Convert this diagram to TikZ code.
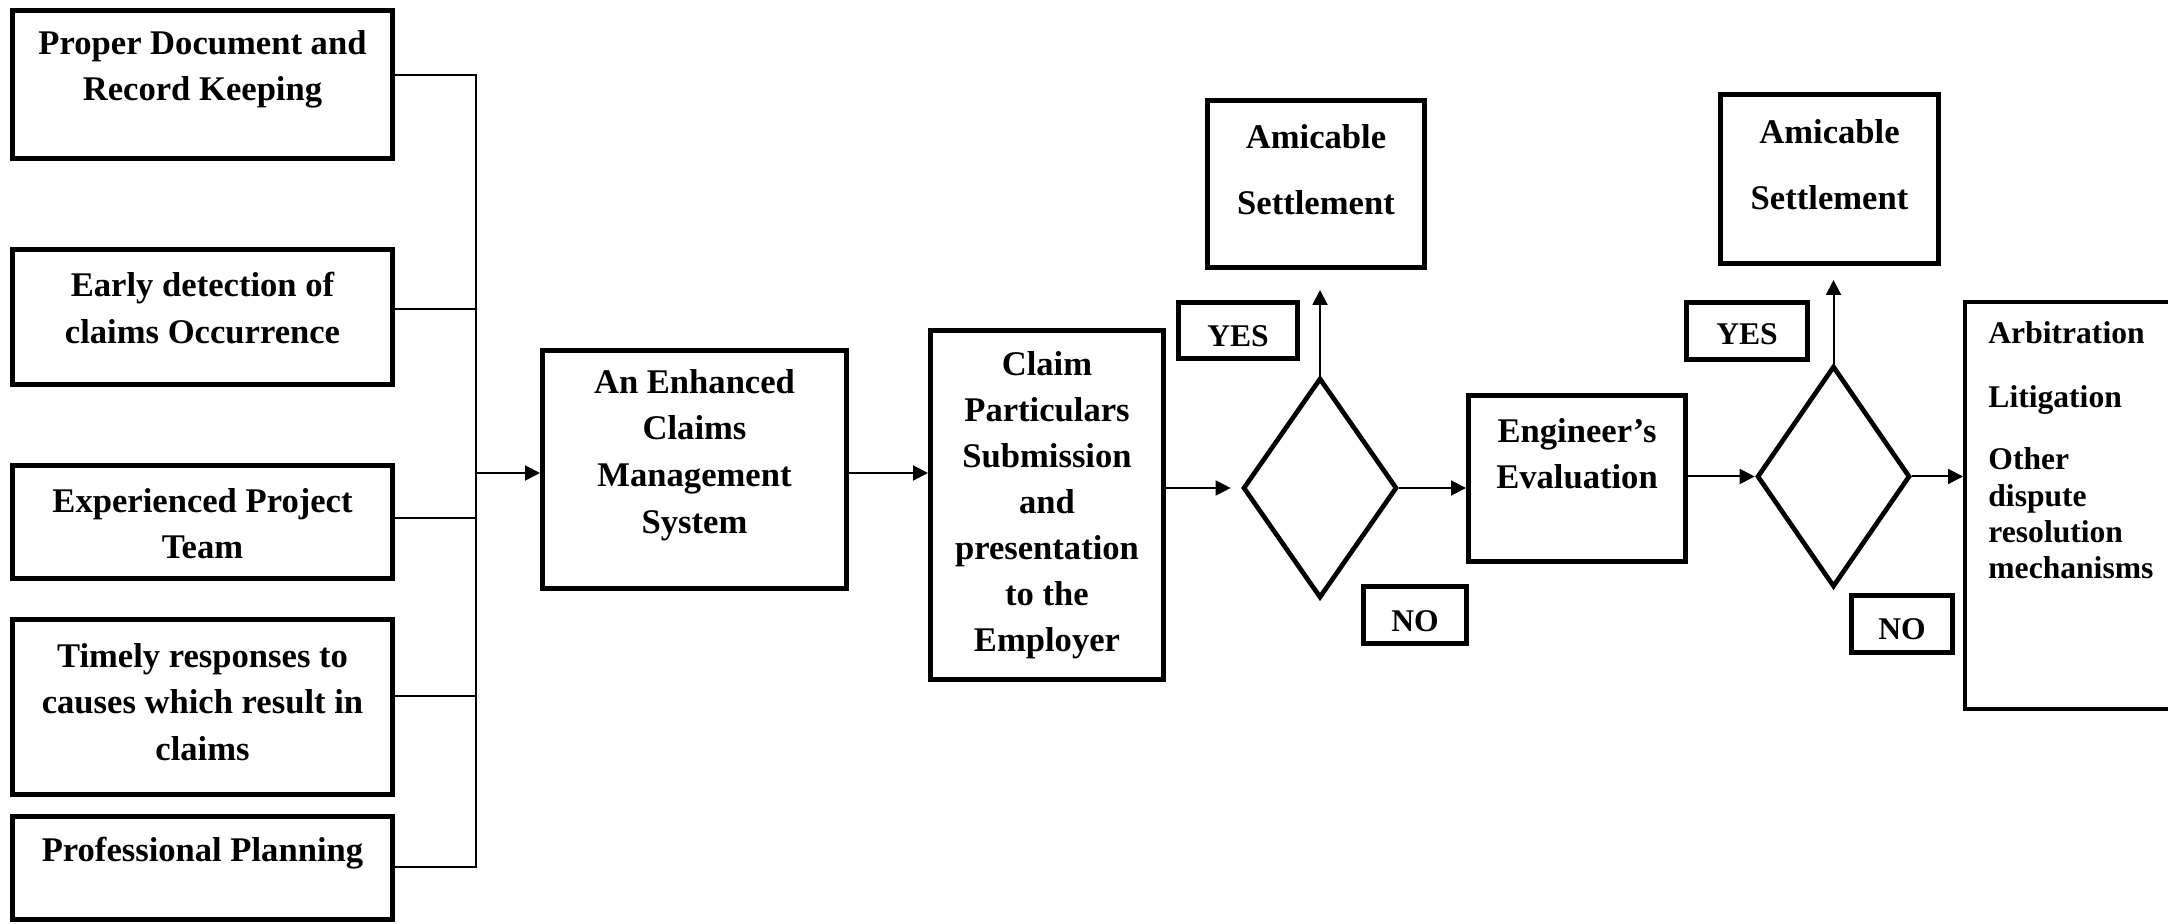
\documentclass[tikz,border=0pt]{standalone}
\usepackage{fontspec}
\setmainfont{Liberation Serif}
\usetikzlibrary{arrows.meta,shapes.geometric}

\begin{document}
\begin{tikzpicture}[x=0.5pt,y=-0.5pt,
  box/.style={draw,line width=2.35pt,inner sep=0pt,rectangle},
  smallbox/.style={draw,line width=2.2pt,inner sep=0pt,rectangle},
  decision/.style={draw,line width=2.35pt,inner sep=0pt,diamond},
  txt/.style={align=center,inner sep=0pt,font=\fontsize{17.3}{23.3}\selectfont\bfseries},
  amtxt/.style={align=center,inner sep=0pt,font=\fontsize{17.3}{33}\selectfont\bfseries},
  tag/.style={inner sep=0pt,font=\fontsize{15.8}{18}\selectfont\bfseries},
  opt/.style={anchor=base west,inner sep=0pt,font=\fontsize{15.8}{18}\selectfont\bfseries},
  conn/.style={line width=1pt},
  arr/.style={line width=1pt,-{Triangle[length=7.5pt,width=7.5pt]}}]
\useasboundingbox (0,0) rectangle (2168,924);

% measures feeding the management system
\node[box,minimum width=190.15pt,minimum height=74.15pt] (b1) at (202.5,84.5) {};
\node[box,minimum width=190.15pt,minimum height=67.65pt] (b2) at (202.5,317) {};
\node[box,minimum width=190.15pt,minimum height=56.65pt] (b3) at (202.5,522) {};
\node[box,minimum width=190.15pt,minimum height=87.65pt] (b4) at (202.5,707) {};
\node[box,minimum width=190.15pt,minimum height=51.65pt] (b5) at (202.5,868) {};
\node[txt] (b1t) at (202.5,69.5) {Proper Document and\\Record Keeping};
\node[txt] (b2t) at (202.5,308) {Early detection of\\claims Occurrence};
\node[txt] (b3t) at (202.5,523.5) {Experienced Project\\Team};
\node[txt] (b4t) at (202.5,702) {Timely responses to\\causes which result in\\claims};
\node[txt] (b5t) at (202.5,853.5) {Professional Planning};

% main process boxes
\node[box,minimum width=152.15pt,minimum height=119.15pt] (ecms) at (694.5,469.5) {};
\node[txt,font=\fontsize{17.3}{23.35}\selectfont\bfseries] (ecmst) at (694.5,455) {An Enhanced\\Claims\\Management\\System};
\node[box,minimum width=116.65pt,minimum height=174.65pt] (claim) at (1047,505) {};
\node[txt,font=\fontsize{17.3}{23}\selectfont\bfseries] (claimt) at (1047,505) {Claim\\Particulars\\Submission\\and\\presentation\\to the\\Employer};

% first decision
\node[decision,minimum width=77pt,minimum height=110pt] (d1) at (1320,488) {};
\node[box,minimum width=108.65pt,minimum height=83.65pt] (am1) at (1316,184) {};
\node[amtxt] (am1t) at (1316,170) {Amicable\\Settlement};
\node[smallbox,minimum width=59.65pt,minimum height=28.15pt] (yes1) at (1238,330.5) {};
\node[tag] (yes1t) at (1238,336) {YES};
\node[smallbox,minimum width=51.65pt,minimum height=28.65pt] (no1) at (1415,615) {};
\node[tag] (no1t) at (1415,621) {NO};

\node[box,minimum width=108.65pt,minimum height=83.15pt] (eng) at (1577,478.5) {};
\node[txt,font=\fontsize{17.3}{23}\selectfont\bfseries] (engt) at (1577,454) {Engineer’s\\Evaluation};

% second decision
\node[decision,minimum width=76.5pt,minimum height=110.5pt] (d2) at (1833.5,476.5) {};
\node[box,minimum width=109.15pt,minimum height=84.65pt] (am2) at (1829.5,179) {};
\node[amtxt] (am2t) at (1829.5,165) {Amicable\\Settlement};
\node[smallbox,minimum width=60.65pt,minimum height=28.65pt] (yes2) at (1747,331) {};
\node[tag] (yes2t) at (1747,334) {YES};
\node[smallbox,minimum width=50.65pt,minimum height=28.65pt] (no2) at (1902,624) {};
\node[tag] (no2t) at (1902,629) {NO};

% dispute resolution routes
\node[draw,line width=2pt,inner sep=0pt,minimum width=110pt,minimum height=203.5pt] (arb) at (2075,505.5) {};
\node[opt] (arb1) at (1988,343.5) {Arbitration};
\node[opt] (arb2) at (1988,407.5) {Litigation};
\node[opt] (arb3) at (1988,469.5) {Other};
\node[opt] (arb4) at (1988,506.5) {dispute};
\node[opt] (arb5) at (1988,542.5) {resolution};
\node[opt] (arb6) at (1988,578.5) {mechanisms};

% collector bar
\coordinate (bartop) at (476,75);
\coordinate (barbot) at (476,867);
\coordinate (j) at (476,473);
\draw[conn] ([yshift=4.75pt]b1.east) -- (bartop) -- (barbot) -- (barbot -| b5.east);
\draw[conn] ([yshift=4pt]b2.east) -- ++(81,0);
\draw[conn] ([yshift=2pt]b3.east) -- ++(81,0);
\draw[conn] ([yshift=5.5pt]b4.east) -- ++(81,0);

% flow arrows
\coordinate (u1) at (1320,290);
\coordinate (u2) at (1833.5,280);
\draw[arr] (j) -- (j -| ecms.west);
\draw[arr] (ecms.east |- j) -- (claim.west |- j);
\draw[arr] (claim.east |- d1) -- ([xshift=-5pt]d1.west);
\draw[arr] (d1.east) -- (eng.west |- d1);
\draw[arr] (d1.north) -- (u1);
\draw[arr] (eng.east |- d2) -- (d2.west);
\draw[arr] (d2.east) -- (arb.west |- d2);
\draw[arr] (d2.north) -- (u2);
\end{tikzpicture}
\end{document}
